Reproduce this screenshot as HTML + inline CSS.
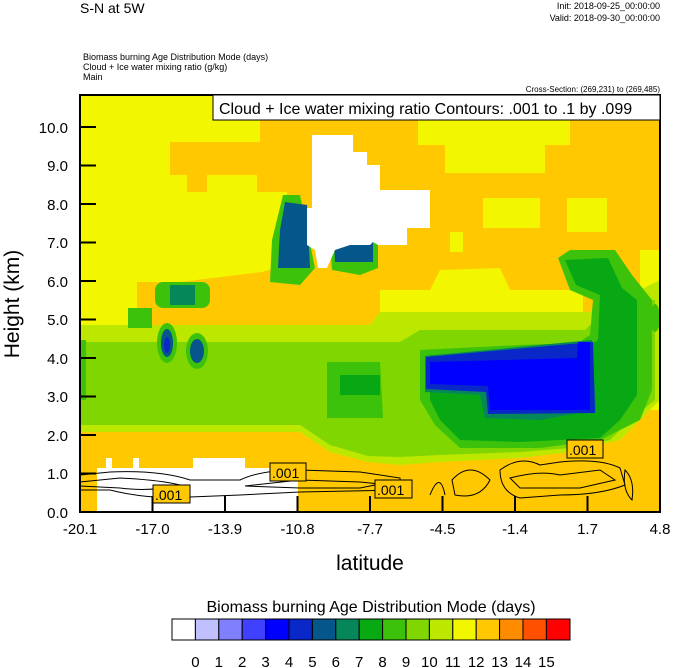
<!DOCTYPE html>
<html><head><meta charset="utf-8"><style>
html,body{margin:0;padding:0;background:#fff}
svg{display:block;font-family:"Liberation Sans",sans-serif}
</style></head><body>
<svg width="674" height="668" viewBox="0 0 674 668" xmlns="http://www.w3.org/2000/svg">
<text x="80" y="13" font-size="14">S-N at 5W</text>
<text x="660" y="9" font-size="9" text-anchor="end">Init: 2018-09-25_00:00:00</text>
<text x="660" y="21" font-size="9" text-anchor="end">Valid: 2018-09-30_00:00:00</text>
<text x="83" y="60" font-size="9">Biomass burning Age Distribution Mode   (days)</text>
<text x="83" y="70" font-size="9">Cloud + Ice water mixing ratio   (g/kg)</text>
<text x="83" y="80" font-size="9">Main</text>
<text x="660" y="92" font-size="8" text-anchor="end">Cross-Section: (269,231) to (269,485)</text>
<defs><clipPath id="c"><rect x="80" y="95" width="580" height="417"/></clipPath></defs>
<g clip-path="url(#c)">
<rect x="80" y="95" width="580" height="417" fill="#FFC800"/>
<g fill="#F2F700">
<polygon points="80,95 260,95 260,142 170,142 170,175 187,175 187,192 287,192 282,230 276,268 262,272 180,282 137,282 137,325 80,325"/>
<rect x="207" y="175" width="50" height="18"/>
<polygon points="418,95 570,95 570,145 545,145 545,173 445,173 445,145 418,145"/>
<rect x="483" y="198" width="57" height="30"/>
<rect x="567" y="198" width="40" height="34"/>
<rect x="450" y="232" width="13" height="20"/>
<polygon points="380,290 430,290 440,270 500,268 510,290 583,290 583,328 380,330"/>
<rect x="640" y="250" width="20" height="160"/>
</g>
<polygon fill="#BCE800" points="80,325 370,325 380,312 590,312 600,300 620,300 660,280 660,400 640,420 620,440 570,452 520,458 440,462 400,465 368,462 330,452 300,432 80,432"/>
<polygon fill="#80D600" points="80,342 400,342 420,330 585,330 605,310 630,300 655,300 655,400 630,420 610,440 570,448 520,452 440,455 400,457 368,456 330,445 300,425 80,425"/>
<polygon fill="#3CC20A" points="327,362 380,362 383,418 327,418"/>
<polygon fill="#3CC20A" points="420,350 520,345 578,343 590,335 593,300 570,290 558,258 570,250 615,250 632,275 652,300 652,390 640,420 600,440 540,448 460,448 435,425 420,400"/>
<polygon fill="#08A814" points="340,375 380,375 380,395 340,395"/>
<polygon fill="#08A814" points="430,355 520,352 580,350 598,340 600,295 576,285 565,260 608,258 622,288 637,300 637,395 620,420 600,438 520,442 460,440 440,420 430,400"/>
<polygon fill="#06875A" points="425,356 592,340 596,410 540,420 485,418 480,395 425,392"/>
<polygon fill="#0A28C8" points="426,357 593,342 595,413 488,414 486,392 426,389"/>
<polygon fill="#0000FF" points="430,362 577,358 578,342 590,342 590,410 490,410 488,386 430,384"/>
<ellipse cx="655" cy="318" rx="5" ry="14" fill="#3CC20A"/>
<rect x="80" y="340" width="6" height="60" fill="#3CC20A"/>
<rect x="128" y="308" width="24" height="20" fill="#3CC20A"/>
<ellipse cx="167" cy="343" rx="10" ry="20" fill="#3CC20A"/>
<ellipse cx="167" cy="343" rx="6" ry="14" fill="#05568A"/>
<ellipse cx="167" cy="345" rx="3" ry="8" fill="#0A28C8"/>
<ellipse cx="197" cy="351" rx="11" ry="18" fill="#3CC20A"/>
<ellipse cx="197" cy="351" rx="7" ry="12" fill="#05568A"/>
<rect x="155" y="282" width="55" height="26" rx="8" fill="#3CC20A"/>
<rect x="170" y="285" width="25" height="20" fill="#06875A"/>
<polygon fill="#3CC20A" points="283,195 300,195 315,268 300,285 270,282 272,240"/>
<polygon fill="#05568A" points="285,202 307,205 310,268 278,268 280,230"/>
<polygon fill="#3CC20A" points="328,210 378,210 378,268 360,275 332,270"/>
<polygon fill="#05568A" points="333,212 373,212 373,262 335,262"/>
<g fill="#fff">
<polygon points="312,135 353,135 353,152 367,152 367,165 377,165 377,190 370,190 370,165 380,165 380,190 430,190 430,228 407,228 407,245 378,245 373,242 370,245 350,245 335,250 327,268 318,268 315,250 307,245 307,208 312,208"/>
<rect x="97" y="468" width="201" height="44"/>
<rect x="193" y="458" width="52" height="12"/>
<rect x="106" y="458" width="6" height="12"/>
<rect x="133" y="458" width="6" height="12"/>
</g>
</g>
<g fill="none" stroke="#000" stroke-width="1">
<path d="M80,475 L110,472 Q160,470 190,480 L240,480 Q260,470 300,470 L360,472 L400,478 L400,490 L300,492 L240,495 L190,497 Q150,500 110,490 L80,490"/>
<path d="M80,482 L120,478 Q160,480 180,485 Q150,492 120,488 L80,486"/>
<path d="M245,486 L300,480 L360,482 L380,484 L360,488 L300,488 Z"/>
<path d="M430,495 Q440,470 445,495 M452,480 Q470,460 490,480 Q480,500 455,495 Z M500,470 Q520,455 540,465 L560,462 Q600,458 620,468 L625,485 Q600,495 560,495 L520,498 Q500,492 500,470 Z M510,478 Q540,470 560,475 L600,470 L615,480 L580,488 L520,488 Z M625,470 Q635,480 632,500 Q622,490 625,470 Z"/>
</g>
<rect x="80" y="95" width="580" height="417" fill="none" stroke="#000" stroke-width="2"/>
<g stroke="#000" stroke-width="2">
<line x1="80" y1="127" x2="96" y2="127"/><line x1="80" y1="165.5" x2="96" y2="165.5"/><line x1="80" y1="204" x2="96" y2="204"/><line x1="80" y1="242.5" x2="96" y2="242.5"/><line x1="80" y1="281" x2="96" y2="281"/><line x1="80" y1="319.5" x2="96" y2="319.5"/><line x1="80" y1="358" x2="96" y2="358"/><line x1="80" y1="396.5" x2="96" y2="396.5"/><line x1="80" y1="435" x2="96" y2="435"/><line x1="80" y1="473.5" x2="96" y2="473.5"/>
<line x1="152.5" y1="512" x2="152.5" y2="496"/><line x1="225" y1="512" x2="225" y2="496"/><line x1="297.5" y1="512" x2="297.5" y2="496"/><line x1="370" y1="512" x2="370" y2="496"/><line x1="442.5" y1="512" x2="442.5" y2="496"/><line x1="515" y1="512" x2="515" y2="496"/><line x1="587.5" y1="512" x2="587.5" y2="496"/>
</g>
<g font-size="14">
<rect x="153" y="485" width="37" height="18" fill="#FFC800" stroke="#000"/><text x="155" y="500">.001</text>
<rect x="270" y="463" width="36" height="18" fill="#FFC800" stroke="#000"/><text x="272" y="478">.001</text>
<rect x="375" y="480" width="37" height="18" fill="#FFC800" stroke="#000"/><text x="377" y="495">.001</text>
<rect x="567" y="440" width="36" height="18" fill="#FFC800" stroke="#000"/><text x="569" y="455">.001</text>
</g>
<rect x="213" y="95" width="447" height="25" fill="#fff" stroke="#000"/>
<text x="219" y="114" font-size="16">Cloud + Ice water mixing ratio Contours: .001 to .1 by .099</text>
<g font-size="15" text-anchor="end">
<text x="68" y="133">10.0</text><text x="68" y="171">9.0</text><text x="68" y="210">8.0</text><text x="68" y="248">7.0</text><text x="68" y="287">6.0</text><text x="68" y="325">5.0</text><text x="68" y="364">4.0</text><text x="68" y="402">3.0</text><text x="68" y="441">2.0</text><text x="68" y="479">1.0</text><text x="68" y="518">0.0</text>
</g>
<g font-size="15" text-anchor="middle">
<text x="80" y="534">-20.1</text><text x="152.5" y="534">-17.0</text><text x="225" y="534">-13.9</text><text x="297.5" y="534">-10.8</text><text x="370" y="534">-7.7</text><text x="442.5" y="534">-4.5</text><text x="515" y="534">-1.4</text><text x="587.5" y="534">1.7</text><text x="660" y="534">4.8</text>
</g>
<text x="370" y="570" font-size="21" text-anchor="middle">latitude</text>
<text transform="translate(19,304) rotate(-90)" font-size="21" text-anchor="middle">Height (km)</text>
<text x="371" y="612" font-size="16" text-anchor="middle">Biomass burning Age Distribution Mode  (days)</text>
<g stroke="#000" stroke-width="1">
<rect x="172" y="619" width="23.4" height="21" fill="#FFFFFF"/>
<rect x="195.4" y="619" width="23.4" height="21" fill="#C0C0FF"/>
<rect x="218.8" y="619" width="23.4" height="21" fill="#8080FF"/>
<rect x="242.2" y="619" width="23.4" height="21" fill="#4040FF"/>
<rect x="265.6" y="619" width="23.4" height="21" fill="#0000FF"/>
<rect x="289" y="619" width="23.4" height="21" fill="#0A28C8"/>
<rect x="312.4" y="619" width="23.4" height="21" fill="#05568A"/>
<rect x="335.8" y="619" width="23.4" height="21" fill="#06875A"/>
<rect x="359.2" y="619" width="23.4" height="21" fill="#08AA14"/>
<rect x="382.6" y="619" width="23.4" height="21" fill="#3CC20A"/>
<rect x="406" y="619" width="23.4" height="21" fill="#80D600"/>
<rect x="429.4" y="619" width="23.4" height="21" fill="#BCE800"/>
<rect x="452.8" y="619" width="23.4" height="21" fill="#F2F700"/>
<rect x="476.2" y="619" width="23.4" height="21" fill="#FFC800"/>
<rect x="499.6" y="619" width="23.4" height="21" fill="#FF8C00"/>
<rect x="523" y="619" width="23.4" height="21" fill="#FF5000"/>
<rect x="546.4" y="619" width="23.6" height="21" fill="#FF0000"/>
</g>
<g font-size="15" text-anchor="middle">
<text x="195.4" y="667">0</text><text x="218.8" y="667">1</text><text x="242.2" y="667">2</text><text x="265.6" y="667">3</text><text x="289" y="667">4</text><text x="312.4" y="667">5</text><text x="335.8" y="667">6</text><text x="359.2" y="667">7</text><text x="382.6" y="667">8</text><text x="406" y="667">9</text><text x="429.4" y="667">10</text><text x="452.8" y="667">11</text><text x="476.2" y="667">12</text><text x="499.6" y="667">13</text><text x="523" y="667">14</text><text x="546.4" y="667">15</text>
</g>
</svg>
</body></html>
